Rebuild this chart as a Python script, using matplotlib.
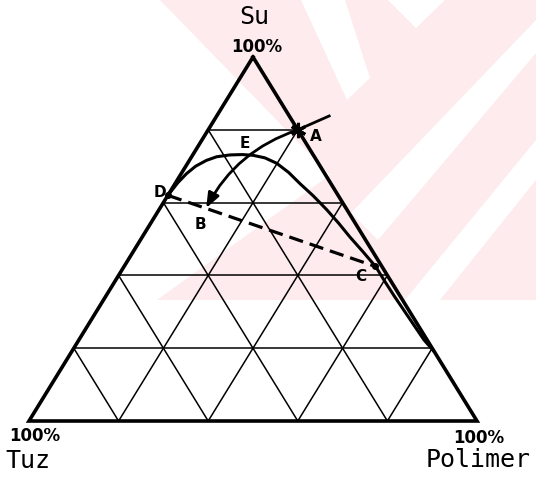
import numpy as np
import matplotlib.pyplot as plt
from matplotlib.patches import Polygon, FancyArrowPatch

# Compositions in percent as (Su, Polimer); Tuz = 100 - Su - Polimer
grid_levels = [20, 40, 60, 80]

binodal_su = [62.0, 65.5, 68.0, 70.0, 71.6, 72.6, 73.1, 73.2, 73.0, 72.3, 70.8, 68.3,
              65.2, 61.8, 58.0, 54.3, 50.6, 46.5, 42.4, 38.2, 34.2, 28.2, 22.3, 19.0]
binodal_pol = [0.0, 0.5, 1.2, 2.2, 3.8, 5.6, 8.3, 11.0, 13.5, 16.5, 19.9, 23.8,
               27.9, 32.6, 37.5, 42.0, 46.3, 51.3, 56.2, 60.4, 64.5, 70.8, 77.0, 81.0]

point_names = ["A", "B", "C", "D"]
point_su = [80.0, 58.5, 42.5, 62.0]
point_pol = [20.0, 10.3, 56.0, 0.0]

# start of the feed line coming in from outside the diagram toward A
feed_su = 83.8
feed_pol = 25.1

# point where the A->B path crosses the binodal
e_su, e_pol = 73.1, 12.8

corner_labels = ["Su", "Tuz", "Polimer"]


def tern(su, pol):
    su = np.asarray(su, dtype=float) / 100
    pol = np.asarray(pol, dtype=float) / 100
    return pol + su / 2, su * np.sqrt(3) / 2


fig = plt.figure(figsize=(5.36, 4.79), dpi=100)
fig.patch.set_facecolor("white")
ax = fig.add_axes([0, 0, 1, 1])
ax.set_xlim(-0.0647, 1.1317)
ax.set_ylim(-0.138, 1.0017)
ax.axis("off")

# faint background stamp (pixel outlines, origin top-left)
W, H = 536, 479
pink = "#fdebee"
stamp = [(160, 0), (536, 0), (536, 300), (157, 300), (330, 175)]
gaps = [
    [(388, 0), (445, 0), (416, 28)],
    [(301, 0), (345, 0), (370, 78), (347, 100)],
    [(536, 20), (536, 53), (378, 240), (351, 213)],
    [(536, 140), (536, 180), (440, 300), (405, 300)],
]
for pts, col in [(stamp, pink)] + [(g, "white") for g in gaps]:
    poly = [(x / W, 1 - y / H) for x, y in pts]
    ax.add_patch(Polygon(poly, closed=True, facecolor=col, edgecolor="none",
                         transform=ax.transAxes, zorder=0))

# grid lines parallel to each side
for k in grid_levels:
    for su, pol in [([k, k], [0, 100 - k]),          # constant Su
                    ([0, 100 - k], [k, k]),          # constant Polimer
                    ([0, 100 - k], [100 - k, 0])]:   # constant Tuz
        x, y = tern(su, pol)
        ax.plot(x, y, color="black", lw=1.1, zorder=2)

# outer triangle
x, y = tern([100, 0, 0, 100], [0, 0, 100, 0])
ax.plot(x, y, color="black", lw=2.6, solid_joinstyle="miter", zorder=3)

# binodal curve
x, y = tern(binodal_su, binodal_pol)
ax.plot(x, y, color="black", lw=2.2, solid_capstyle="round",
        solid_joinstyle="round", zorder=4)

pts = dict(zip(point_names, zip(point_su, point_pol)))
xy = {n: tuple(float(v) for v in tern(*pts[n])) for n in point_names}

# tie line D - C
ax.plot([xy["D"][0], xy["C"][0]], [xy["D"][1], xy["C"][1]], color="black",
        lw=2.3, linestyle=(0, (4.5, 2.2)), zorder=4)

# feed path: in through A, curving down to B
fx, fy = tern(feed_su, feed_pol)
ax.plot([fx, xy["A"][0]], [fy, xy["A"][1]], color="black", lw=2.0, zorder=5)
arrow = FancyArrowPatch(xy["A"], xy["B"], connectionstyle="arc3,rad=0.2",
                        arrowstyle="-|>,head_length=9,head_width=3.5",
                        color="black", lw=2.0, shrinkA=0, shrinkB=0, zorder=5)
ax.add_patch(arrow)

ax.plot(*xy["A"], marker=(6, 2, 0), ms=11, mew=2.2, color="black", zorder=6)
for n in ["C", "D"]:
    ax.plot(*xy[n], marker="o", ms=4, color="black", zorder=6)

label_offsets = {"A": (13, -5), "B": (-4, -12), "C": (-10, -7), "D": (-6, 2)}
for n in point_names:
    ax.annotate(n, xy[n], xytext=label_offsets[n], textcoords="offset points",
                ha="center", va="center", fontsize=11, fontweight="bold")
ax.annotate("E", tern(e_su, e_pol), xytext=(-4, 8), textcoords="offset points",
            ha="center", va="center", fontsize=11, fontweight="bold")

# corner labels
mono = "DejaVu Sans Mono"
top = tern(100, 0)
ax.annotate("100%", top, xytext=(3, 7), textcoords="offset points",
            ha="center", va="center", fontsize=12, fontweight="bold")
ax.annotate(corner_labels[0], top, xytext=(1, 29), textcoords="offset points",
            ha="center", va="center", fontsize=18, family=mono)
left = tern(0, 0)
ax.annotate("100%", left, xytext=(4, -11), textcoords="offset points",
            ha="center", va="center", fontsize=12, fontweight="bold")
ax.annotate(corner_labels[1], left, xytext=(-1, -29), textcoords="offset points",
            ha="center", va="center", fontsize=18, family=mono)
right = tern(0, 100)
ax.annotate("100%", right, xytext=(1, -12), textcoords="offset points",
            ha="center", va="center", fontsize=12, fontweight="bold")
ax.annotate(corner_labels[2], right, xytext=(1, -28), textcoords="offset points",
            ha="center", va="center", fontsize=18, family=mono)

fig.savefig("out.png", dpi=100)
